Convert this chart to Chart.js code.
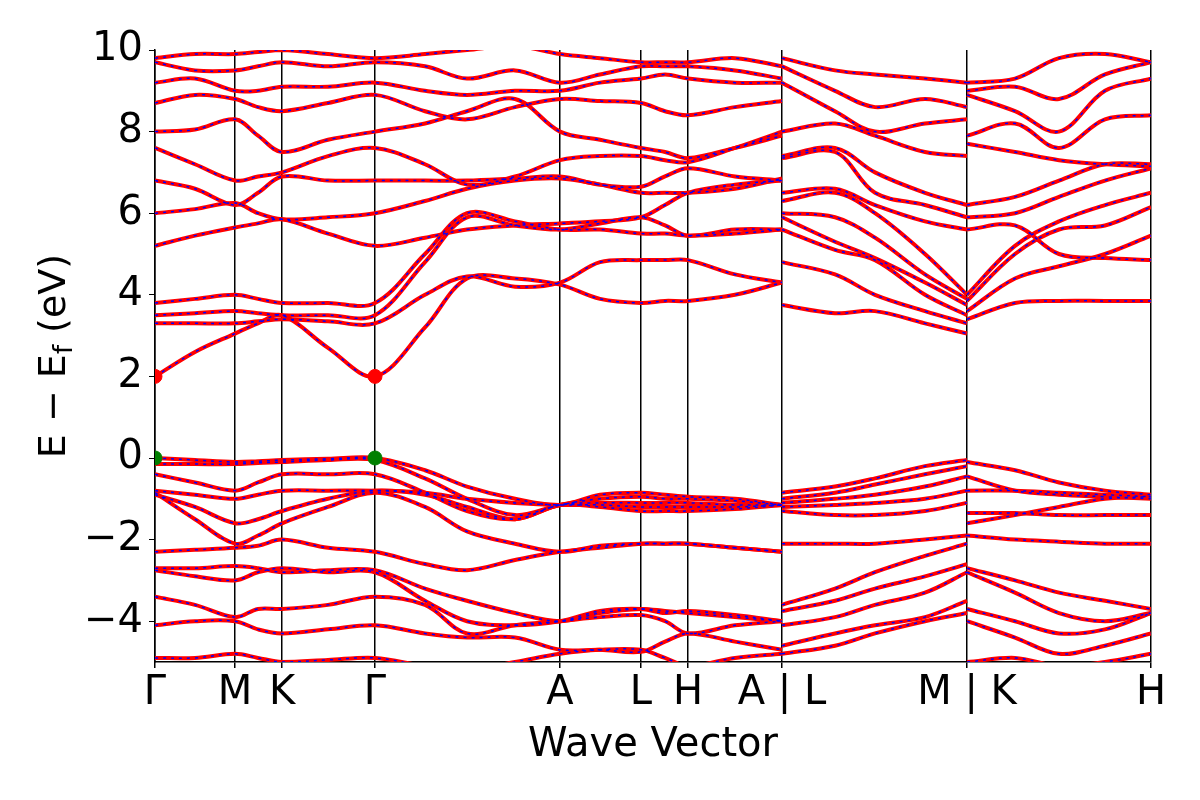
<!DOCTYPE html>
<html>
<head>
<meta charset="utf-8">
<script src="https://cdn.jsdelivr.net/npm/chart.js@4"></script>
<style>
  body { margin: 0; background: #fff; }
  #wrap { width: 1200px; height: 800px; }
</style>
</head>
<body>
<div id="wrap"><canvas id="bands" width="1200" height="800"></canvas></div>
<script>
'use strict';

// k-path positions (distance along path)
let tickPos = [0, 80, 127, 220, 405, 486, 533, 627, 812, 996];
let tickLabels = ['Γ', 'M', 'K', 'Γ', 'A', 'L', 'H', 'A | L', 'M | K', 'H'];
let yTicks = [-4, -2, 0, 2, 4, 6, 8, 10];

// sample k points of each path piece
let kSeg1 = [0, 40, 80, 103, 127, 173, 220, 270, 312, 360, 405, 445, 486, 510, 533, 580, 627];
let kSeg2 = [627, 680, 720, 770, 812];
let kSeg3 = [812, 860, 904, 950, 996];

// Γ-M-K-Γ-A-L-H-A bands
let seg1Bands = [
  [0, -0.05, -0.1, -0.08, -0.05, -0.02, 0, -0.3, -0.7, -1.0, -1.15, -0.9, -0.85, -0.9, -0.95, -1.0, -1.15],
  [-0.15, -0.15, -0.15, -0.12, -0.1, -0.05, -0.05, -0.5, -1.0, -1.4, -1.15, -1.0, -0.95, -1.0, -1.0, -1.05, -1.15],
  [-0.4, -0.6, -0.8, -0.6, -0.4, -0.4, -0.4, -0.85, -1.3, -1.5, -1.15, -1.1, -1.1, -1.1, -1.1, -1.15, -1.15],
  [-0.8, -0.9, -1.0, -0.9, -0.8, -0.8, -0.8, -0.85, -1.0, -1.1, -1.15, -1.15, -1.2, -1.2, -1.2, -1.2, -1.15],
  [-0.85, -1.5, -2.1, -1.9, -1.6, -1.2, -0.85, -1.2, -1.8, -2.1, -2.3, -2.15, -2.1, -2.1, -2.1, -2.2, -2.3],
  [-0.9, -1.2, -1.6, -1.5, -1.3, -1.0, -0.8, -0.9, -1.2, -1.5, -1.15, -1.2, -1.3, -1.3, -1.3, -1.25, -1.15],
  [-2.3, -2.25, -2.2, -2.15, -2.0, -2.2, -2.3, -2.6, -2.75, -2.5, -2.3, -2.2, -2.1, -2.1, -2.1, -2.2, -2.3],
  [-2.7, -2.7, -2.65, -2.7, -2.8, -2.75, -2.75, -3.2, -3.5, -3.8, -4.0, -3.8, -3.7, -3.75, -3.8, -3.9, -4.0],
  [-2.75, -2.9, -3.0, -2.8, -2.7, -2.8, -2.8, -3.5, -4.0, -4.1, -4.0, -3.75, -3.7, -3.8, -3.75, -3.85, -4.0],
  [-3.4, -3.6, -3.9, -3.7, -3.7, -3.6, -3.4, -3.6, -4.3, -4.1, -4.0, -3.9, -3.85, -4.0, -4.3, -4.1, -4.0],
  [-4.1, -4.0, -4.0, -4.2, -4.3, -4.2, -4.1, -4.3, -4.4, -4.4, -4.7, -4.7, -4.75, -4.5, -4.3, -4.5, -4.7],
  [-4.9, -4.9, -4.8, -4.9, -5.0, -4.95, -4.9, -5.1, -5.2, -5.0, -4.8, -4.7, -4.7, -4.9, -5.1, -4.9, -4.8],
  [2.0, 2.6, 3.05, 3.3, 3.5, 2.7, 2.0, 3.2, 4.4, 4.4, 4.25, 3.9, 3.8, 3.85, 3.85, 4.0, 4.3],
  [3.3, 3.3, 3.3, 3.35, 3.4, 3.35, 3.3, 4.0, 4.45, 4.2, 4.3, 4.8, 4.85, 4.85, 4.85, 4.5, 4.3],
  [3.5, 3.55, 3.6, 3.55, 3.5, 3.5, 3.5, 4.8, 5.9, 5.7, 5.6, 5.75, 5.9, 5.7, 5.45, 5.6, 5.6],
  [3.8, 3.9, 4.0, 3.9, 3.8, 3.8, 3.8, 5.0, 6.0, 5.8, 5.6, 5.6, 5.5, 5.5, 5.45, 5.5, 5.6],
  [5.2, 5.45, 5.65, 5.75, 5.85, 5.5, 5.2, 5.4, 5.6, 5.7, 5.75, 5.8, 5.9, 6.2, 6.5, 6.7, 6.8],
  [6.0, 6.1, 6.25, 6.0, 5.85, 5.9, 6.0, 6.3, 6.6, 6.8, 6.85, 6.7, 6.5, 6.5, 6.5, 6.6, 6.85],
  [6.8, 6.6, 6.2, 6.5, 6.9, 6.8, 6.8, 6.8, 6.8, 6.85, 6.9, 6.7, 6.65, 6.9, 7.1, 6.9, 6.8],
  [7.6, 7.2, 6.8, 6.9, 7.0, 7.4, 7.6, 7.2, 6.7, 6.9, 7.3, 7.4, 7.4, 7.3, 7.25, 7.6, 8.0],
  [8.0, 8.05, 8.3, 7.9, 7.5, 7.8, 8.0, 8.2, 8.5, 8.8, 8.0, 7.8, 7.6, 7.5, 7.35, 7.6, 7.9],
  [8.7, 8.9, 8.8, 8.6, 8.5, 8.7, 8.9, 8.5, 8.3, 8.6, 8.8, 8.75, 8.7, 8.5, 8.4, 8.6, 8.75],
  [9.2, 9.3, 9.0, 9.0, 9.1, 9.1, 9.2, 9.0, 8.9, 9.0, 9.0, 9.2, 9.3, 9.4, 9.3, 9.2, 9.2],
  [9.7, 9.5, 9.5, 9.6, 9.7, 9.6, 9.7, 9.6, 9.3, 9.5, 9.2, 9.4, 9.6, 9.6, 9.6, 9.5, 9.3],
  [9.8, 9.9, 9.9, 9.95, 10, 9.9, 9.8, 9.9, 10, 10.1, 9.9, 9.8, 9.7, 9.7, 9.7, 9.8, 9.6]
];

// L-M bands
let seg2Bands = [
  [-0.85, -0.7, -0.5, -0.2, -0.05],
  [-1.0, -0.85, -0.65, -0.4, -0.2],
  [-1.1, -1.0, -0.9, -0.7, -0.45],
  [-1.2, -1.15, -1.1, -1.0, -0.8],
  [-1.3, -1.4, -1.4, -1.3, -1.1],
  [-2.1, -2.1, -2.1, -2.0, -1.9],
  [-3.6, -3.2, -2.8, -2.4, -2.1],
  [-3.75, -3.5, -3.2, -2.9, -2.6],
  [-4.1, -3.9, -3.6, -3.3, -2.8],
  [-4.6, -4.3, -4.1, -3.9, -3.5],
  [-4.8, -4.6, -4.3, -4.0, -3.8],
  [3.75, 3.55, 3.6, 3.3, 3.05],
  [4.8, 4.5, 4.0, 3.6, 3.3],
  [5.6, 5.1, 4.85, 4.0, 3.5],
  [5.9, 5.3, 4.9, 4.3, 3.75],
  [6.0, 5.9, 5.4, 4.5, 3.9],
  [6.3, 6.5, 6.0, 5.0, 4.0],
  [6.5, 6.6, 6.2, 5.8, 5.6],
  [7.35, 7.5, 6.5, 6.2, 5.9],
  [7.4, 7.6, 7.0, 6.5, 6.2],
  [8.0, 8.2, 7.9, 7.5, 7.4],
  [9.2, 8.5, 8.0, 8.2, 8.3],
  [9.6, 9.0, 8.6, 8.8, 8.6],
  [9.8, 9.5, 9.4, 9.3, 9.2]
];

// K-H bands
let seg3Bands = [
  [-0.1, -0.3, -0.6, -0.8, -0.9],
  [-0.45, -0.8, -0.9, -0.95, -1.0],
  [-0.8, -0.8, -0.85, -0.9, -0.95],
  [-1.35, -1.35, -1.4, -1.4, -1.4],
  [-1.9, -2.0, -2.05, -2.1, -2.1],
  [-1.6, -1.4, -1.2, -1.0, -0.95],
  [-2.7, -3.0, -3.3, -3.5, -3.7],
  [-2.8, -3.3, -3.8, -4.0, -3.8],
  [-3.7, -4.0, -4.3, -4.2, -3.8],
  [-4.0, -4.4, -4.8, -4.6, -4.3],
  [-5.0, -4.9, -5.1, -5.0, -4.8],
  [3.4, 3.8, 3.85, 3.85, 3.85],
  [3.6, 4.4, 4.7, 5.0, 5.45],
  [3.85, 5.0, 5.6, 5.7, 6.15],
  [4.0, 5.2, 5.8, 6.2, 6.5],
  [5.6, 5.7, 5.0, 4.9, 4.85],
  [5.9, 6.0, 6.4, 6.8, 7.1],
  [6.2, 6.4, 6.8, 7.2, 7.2],
  [7.7, 7.5, 7.3, 7.2, 7.15],
  [7.9, 8.2, 7.6, 8.3, 8.4],
  [8.9, 8.5, 8.0, 9.0, 9.3],
  [9.0, 9.1, 8.8, 9.4, 9.7],
  [9.2, 9.3, 9.8, 9.9, 9.7]
];

// band edge markers
let cbmPoints = [{ x: 0, y: 2.0 }, { x: 220, y: 2.0 }];
let vbmPoints = [{ x: 0, y: 0 }, { x: 220, y: 0 }];

let datasets = [];
function addBands(kList, bandList) {
  for (let i = 0; i < bandList.length; i++) {
    let pts = kList.map((k, j) => ({ x: k, y: bandList[i][j] }));
    datasets.push({ data: pts, borderColor: 'red', borderWidth: 4, pointRadius: 0, tension: 0.35, order: 2 });
    datasets.push({ data: pts, borderColor: 'blue', borderWidth: 1.5, borderDash: [3, 5], pointRadius: 0, tension: 0.35, order: 1 });
  }
}
addBands(kSeg1, seg1Bands);
addBands(kSeg2, seg2Bands);
addBands(kSeg3, seg3Bands);
datasets.push({ data: cbmPoints, showLine: false, pointRadius: 7, pointBackgroundColor: 'red', pointBorderColor: 'red', order: 0 });
datasets.push({ data: vbmPoints, showLine: false, pointRadius: 7, pointBackgroundColor: 'green', pointBorderColor: 'green', order: 0 });

// y title with subscript
const yTitlePlugin = {
  id: 'yTitle',
  afterDraw(chart) {
    let c = chart.ctx;
    c.save();
    c.translate(55, 356);
    c.rotate(-Math.PI / 2);
    c.fillStyle = '#000';
    c.textBaseline = 'middle';
    let big = '38px "DejaVu Sans"';
    let small = '26px "DejaVu Sans"';
    c.font = big;
    let p1 = 'E − E';
    let p3 = ' (eV)';
    c.font = small;
    let w2 = c.measureText('f').width;
    c.font = big;
    let w1 = c.measureText(p1).width;
    let w3 = c.measureText(p3).width;
    let x = -(w1 + w2 + w3) / 2;
    c.fillText(p1, x, 0);
    c.font = small;
    c.fillText('f', x + w1, 10);
    c.font = big;
    c.fillText(p3, x + w1 + w2, 0);
    c.restore();
  }
};

new Chart(document.getElementById('bands').getContext('2d'), {
  type: 'line',
  data: { datasets: datasets },
  options: {
    responsive: false,
    animation: false,
    layout: { padding: { top: 50, right: 49, left: 0, bottom: 30 } },
    plugins: { legend: { display: false }, tooltip: { enabled: false } },
    scales: {
      x: {
        type: 'linear',
        min: 0,
        max: 996,
        afterBuildTicks: axis => { axis.ticks = tickPos.map(v => ({ value: v })); },
        afterFit: axis => { axis.height = 108; },
        ticks: {
          autoSkip: false,
          maxRotation: 0,
          color: '#000',
          font: { size: 40, family: 'DejaVu Sans' },
          padding: 2,
          callback: (v, i) => tickLabels[i]
        },
        grid: { color: '#000', lineWidth: 1.5, drawTicks: true, tickLength: 6, tickColor: '#000' },
        border: { color: '#000', width: 1.5 },
        title: { display: true, text: 'Wave Vector', color: '#000', font: { size: 40, family: 'DejaVu Sans' }, padding: 0 }
      },
      y: {
        min: -5,
        max: 10,
        afterBuildTicks: axis => { axis.ticks = yTicks.map(v => ({ value: v })); },
        afterFit: axis => { axis.width = 155; },
        ticks: {
          color: '#000',
          font: { size: 40, family: 'DejaVu Sans' },
          padding: 6,
          callback: v => (v < 0 ? '−' + Math.abs(v) : String(v))
        },
        grid: { display: true, drawOnChartArea: false, tickLength: 6, tickColor: '#000' },
        border: { color: '#000', width: 1.5 }
      }
    }
  },
  plugins: [yTitlePlugin]
});
</script>
</body>
</html>
